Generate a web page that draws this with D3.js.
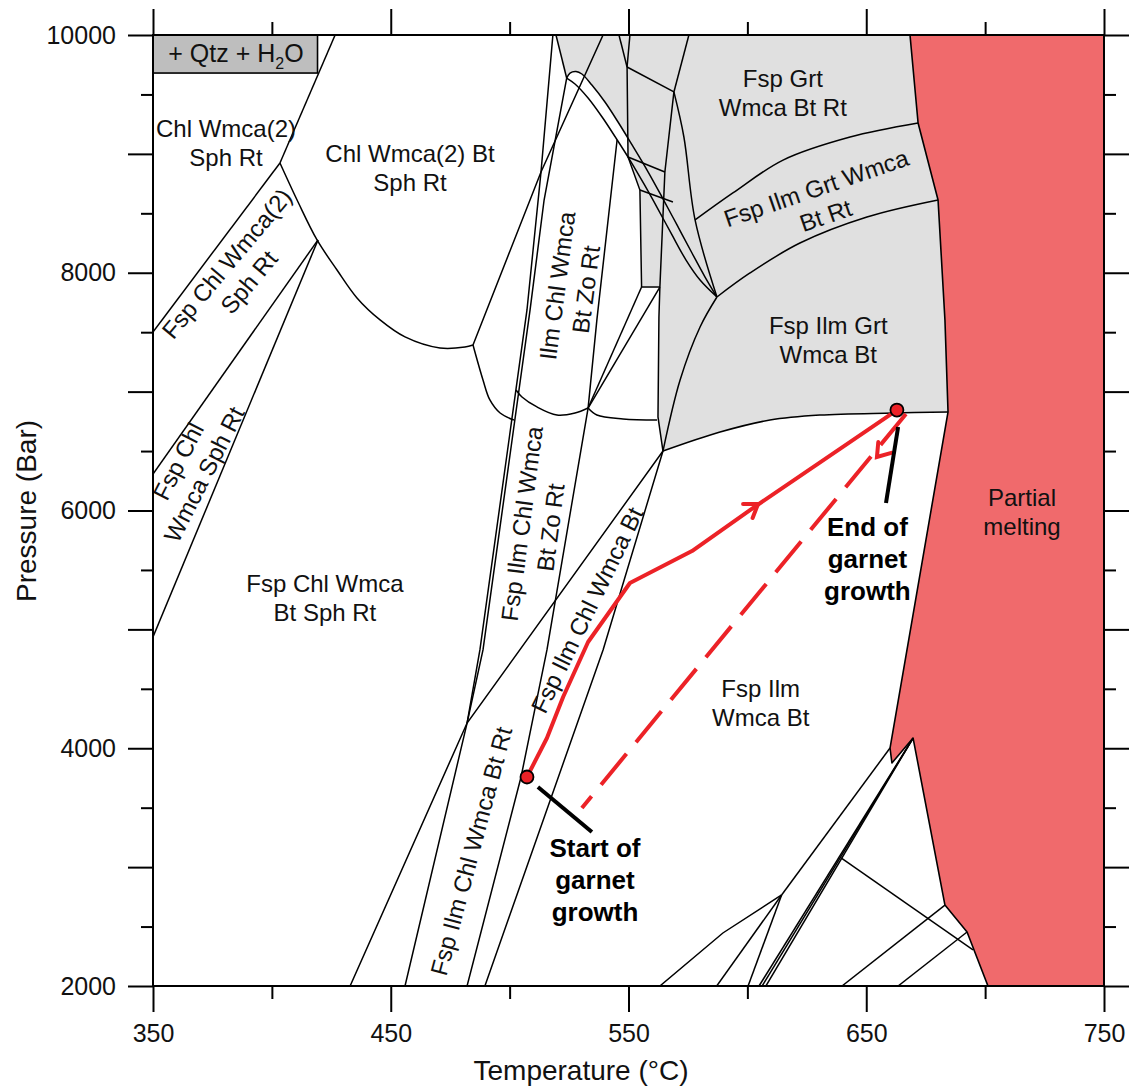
<!DOCTYPE html>
<html>
<head>
<meta charset="utf-8">
<script src="https://cdn.jsdelivr.net/npm/d3@7"></script>
<style>
  body { margin: 0; background: #fff; }
  text { font-family: "Liberation Sans", Arial, Helvetica, sans-serif; }
</style>
</head>
<body>
<svg id="chart" width="1133" height="1087"></svg>
<script>
// ---- values: [temperature °C, pressure bar] ----
var xMajor = [350, 450, 550, 650, 750];
var xMinor = [400, 500, 600, 700];
var yMajor = [2000, 3000, 4000, 5000, 6000, 7000, 8000, 9000, 10000];
var yMinor = [2500, 3500, 4500, 5500, 6500, 7500, 8500, 9500];
var yLabelled = [2000, 4000, 6000, 8000, 10000];

// garnet-bearing fields (grey)
var garnetField = [[519.5,10000],[668.4,10000],[671.8,9260],[680.2,8612],[683.1,7603],[684.4,6829],
  [661.3,6820],[630.5,6803],[609.5,6761],[588.5,6660],[564.5,6500],[562.4,6787],[562.8,7628],
  [563.2,7880],[555.5,7880],[554.8,8696],[549.8,8974],[549.6,9142],[545.6,9268],[540.1,9436],
  [534.6,9579],[530.4,9672],[527.9,9693],[525.4,9680],[524.0,9638]];

// partial melting field
var meltField = [[668.4,10000],[671.8,9260],[680.2,8612],[683.1,7603],[684.4,6829],[660.0,4002],
  [660.8,3876],[669.7,4086],[683.1,2681],[692.4,2454],[701.2,2000],[750,2000],[750,10000]];

// "+ Qtz + H2O" box
var qtzBox = [[350,10000],[419.2,9680]];

// straight field boundaries
var boundaries = [
  [[426.6,10000],[403.4,8923]],
  [[403.4,8923],[350,7502]],
  [[419.4,8276],[350,6307]],
  [[419.4,8276],[350,4936]],
  [[484.6,7392],[513.2,8848],[539.3,10000]],
  [[518.2,10000],[513.2,8848],[507.3,7687],[487.5,4827],[482.1,4212],[456.0,2000]],
  [[524.0,9638],[514.5,8612],[508.6,7687],[488.8,4827],[482.1,4212]],
  [[519.5,10000],[524.0,9638]],
  [[545.2,9117],[536.7,7603],[533.0,6862],[515.7,4827],[504.8,3758],[482.1,2000]],
  [[564.5,6500],[482.1,4212],[432.9,2000]],
  [[564.5,6500],[539.3,4827],[489.6,2000]],
  [[555.5,7880],[533.0,6862]],
  [[563.2,7880],[533.0,6862]],
  [[546.0,10000],[549.4,9731]],
  [[550.6,10000],[549.4,9731],[549.8,8974],[554.8,8696],[555.5,7880]],
  [[549.4,9731],[569.1,9521]],
  [[575.4,10000],[569.1,9521]],
  [[569.1,9521],[565.3,8848],[563.2,7880]],
  [[549.8,8974],[565.3,8848]],
  [[554.8,8696],[568.7,8595]],
  [[555.5,7880],[563.2,7880]],
  [[563.2,7880],[562.8,7628],[562.4,6787],[564.5,6500]],
  [[660.0,4002],[614.4,2766]],
  [[614.4,2766],[589.7,2446],[563.2,2000]],
  [[614.4,2766],[587.1,2000]],
  [[614.4,2766],[600.3,2000]],
  [[604.9,2000],[669.7,4086]],
  [[606.2,2000],[669.7,4086]],
  [[607.8,2000],[669.7,4086]],
  [[639.4,3077],[694.9,2303]],
  [[639.8,2000],[683.1,2681]],
  [[663.4,2000],[692.4,2454]]
];

// curved field boundaries
var curvedBoundaries = [
  [[403.4,8923],[411.0,8595],[419.0,8276],[427.4,8023],[435.8,7788],[445.5,7603],[456.0,7460],[470.7,7367],[481.2,7375],[484.6,7392]],
  [[524.0,9638],[525.4,9680],[527.9,9693],[530.4,9672],[534.6,9579],[540.1,9436],[545.6,9268],[551.5,9075],[557.8,8864],[564.1,8637],[570.4,8402],[576.7,8166],[582.2,7964],[587.2,7796]],
  [[524.0,9638],[527.5,9588],[533.0,9470],[538.9,9310],[544.7,9134],[550.6,8948],[556.5,8747],[562.4,8536],[568.3,8318],[574.2,8107],[580.1,7939],[587.2,7796]],
  [[569.1,9521],[573.3,9142],[578.0,8444],[587.2,7796]],
  [[578.0,8444],[593.9,8671],[615.0,8948],[643.2,9142],[671.8,9260]],
  [[587.2,7796],[601.1,7998],[622.1,8250],[650.3,8469],[680.2,8612]],
  [[587.2,7796],[580.1,7544],[571.7,7098],[564.5,6500]],
  [[564.5,6500],[588.5,6660],[609.5,6761],[630.5,6803],[661.3,6820],[684.4,6829]],
  [[484.6,7392],[488.8,7098],[491.7,6930],[496.0,6820],[501.8,6761]],
  [[502.7,7014],[505.2,6955],[511.5,6871],[519.9,6803],[527.5,6820],[533.0,6862]],
  [[533.0,6862],[536.7,6803],[547.7,6770],[562.0,6761]]
];

// P-T path
var prograde = [[507.3,3758],[515.7,4086],[522.5,4431],[533.0,4894],[550.6,5390],[576.7,5659],[601.1,6004],[662.9,6845]];
var retrograde = [[666.7,6812],[530.4,3497]];
var pathEnds = [[507.3,3758],[662.9,6845]];
var progradeArrow = [604.5,6055];
var retrogradeArrow = [654.5,6450];
var pointers = [[[511.9,3674],[534.6,3295]], [[663.4,6702],[658.3,6063]]];

var fieldLabels = [
  {t:380.7, p:9091, rot:0,    lines:["Chl Wmca(2)", "Sph Rt"]},
  {t:458.1, p:8881, rot:0,    lines:["Chl Wmca(2) Bt", "Sph Rt"]},
  {t:385.6, p:8000, rot:-50,  lines:["Fsp Chl Wmca(2)", "Sph Rt"]},
  {t:366.0, p:6360, rot:-63,  lines:["Fsp Chl", "Wmca Sph Rt"]},
  {t:422.3, p:5264, rot:0,    lines:["Fsp Chl Wmca", "Bt Sph Rt"]},
  {t:526.0, p:7876, rot:-82.5,lines:["Ilm Chl Wmca", "Bt Zo Rt"]},
  {t:511.1, p:5874, rot:-82.5,lines:["Fsp Ilm Chl Wmca", "Bt Zo Rt"]},
  {t:532.5, p:5163, rot:-64,  lines:["Fsp Ilm Chl Wmca Bt"]},
  {t:483.8, p:3135, rot:-75,  lines:["Fsp Ilm Chl Wmca Bt Rt"]},
  {t:614.9, p:9514, rot:0,    lines:["Fsp Grt", "Wmca Bt Rt"]},
  {t:630.9, p:8598, rot:-19,  lines:["Fsp Ilm Grt Wmca", "Bt Rt"]},
  {t:634.0, p:7438, rot:0,    lines:["Fsp Ilm Grt", "Wmca Bt"]},
  {t:715.5, p:5992, rot:0,    lines:["Partial", "melting"]},
  {t:605.6, p:4380, rot:0,    lines:["Fsp Ilm", "Wmca Bt"]}
];
var noteLabels = [
  {t:535.9, p:3161, lines:["Start of", "garnet", "growth"]},
  {t:650.5, p:5861, lines:["End of", "garnet", "growth"]}
];
var boxLabel = {t:384.9, p:9773};

// ---- drawing ----
var svg = d3.select("#chart");
var x = d3.scaleLinear().domain([350, 750]).range([153, 1104]);
var y = d3.scaleLinear().domain([2000, 10000]).range([986, 35]);

svg.append("defs").append("clipPath").attr("id", "plot")
  .append("rect").attr("x", 153).attr("y", 35).attr("width", 951).attr("height", 951);

var plot = svg.append("g").attr("clip-path", "url(#plot)");

var line = d3.line().x(function(d){ return x(d[0]); }).y(function(d){ return y(d[1]); });
var curve = d3.line().x(function(d){ return x(d[0]); }).y(function(d){ return y(d[1]); })
  .curve(d3.curveCatmullRom.alpha(0.5));

plot.append("path").attr("d", line(garnetField) + "Z").attr("fill", "#e0e0e0");
plot.append("path").attr("d", line(meltField) + "Z").attr("fill", "#f06a6c")
  .attr("stroke", "#000").attr("stroke-width", 1.6).attr("stroke-linejoin", "round");

plot.selectAll(".b").data(boundaries).enter().append("path")
  .attr("d", line).attr("fill", "none").attr("stroke", "#000").attr("stroke-width", 1.5);
plot.selectAll(".c").data(curvedBoundaries).enter().append("path")
  .attr("d", curve).attr("fill", "none").attr("stroke", "#000").attr("stroke-width", 1.5);

// Qtz + H2O box
plot.append("rect")
  .attr("x", x(qtzBox[0][0])).attr("y", y(qtzBox[0][1]))
  .attr("width", x(qtzBox[1][0]) - x(qtzBox[0][0]))
  .attr("height", y(qtzBox[1][1]) - y(qtzBox[0][1]))
  .attr("fill", "#bebebe").attr("stroke", "#000").attr("stroke-width", 1.6);
var bt = svg.append("text").attr("x", x(boxLabel.t)).attr("y", y(boxLabel.p))
  .attr("text-anchor", "middle").attr("font-size", 25).attr("fill", "#111");
bt.append("tspan").text("+ Qtz + H");
bt.append("tspan").attr("font-size", 16).attr("dy", 7).text("2");
bt.append("tspan").attr("dy", -7).text("O");

// field labels
fieldLabels.forEach(function(l){
  var g = svg.append("g")
    .attr("transform", "translate(" + x(l.t) + "," + y(l.p) + ") rotate(" + l.rot + ")");
  l.lines.forEach(function(s, i){
    g.append("text").attr("x", 0).attr("y", (i - (l.lines.length - 1) / 2) * 29)
      .attr("dy", "0.36em").attr("text-anchor", "middle")
      .attr("font-size", 24).attr("fill", "#111").text(s);
  });
});

// P-T path
var red = "#ec2227";
plot.append("path").attr("d", line(prograde)).attr("fill", "none")
  .attr("stroke", red).attr("stroke-width", 4).attr("stroke-linejoin", "round");
plot.append("path").attr("d", line(retrograde)).attr("fill", "none")
  .attr("stroke", red).attr("stroke-width", 4).attr("stroke-dasharray", "40,15");

function chevron(tip, from, to){
  var tx = x(tip[0]), ty = y(tip[1]);
  var dx = x(to[0]) - x(from[0]), dy = y(to[1]) - y(from[1]);
  var len = Math.sqrt(dx*dx + dy*dy); dx /= len; dy /= len;
  var a = 0.6, L = 15, pts = [];
  [a, -a].forEach(function(s){
    var bx = -dx*Math.cos(s) + dy*Math.sin(s), by = -dy*Math.cos(s) - dx*Math.sin(s);
    pts.push([tx + bx*L, ty + by*L]);
  });
  return "M" + pts[0] + "L" + tx + "," + ty + "L" + pts[1];
}
plot.append("path").attr("d", chevron(progradeArrow, prograde[6], prograde[7]))
  .attr("fill", "none").attr("stroke", red).attr("stroke-width", 4).attr("stroke-linecap", "round");
plot.append("path").attr("d", chevron(retrogradeArrow, retrograde[0], retrograde[1]))
  .attr("fill", "none").attr("stroke", red).attr("stroke-width", 4).attr("stroke-linecap", "round");

plot.selectAll(".ptr").data(pointers).enter().append("path")
  .attr("d", line).attr("stroke", "#000").attr("stroke-width", 4);

plot.selectAll(".dot").data(pathEnds).enter().append("circle")
  .attr("cx", function(d){ return x(d[0]); }).attr("cy", function(d){ return y(d[1]); })
  .attr("r", 6.5).attr("fill", red).attr("stroke", "#000").attr("stroke-width", 1.8);

noteLabels.forEach(function(l){
  l.lines.forEach(function(s, i){
    svg.append("text").attr("x", x(l.t)).attr("y", y(l.p) + i * 32).attr("dy", "0.36em")
      .attr("text-anchor", "middle").attr("font-size", 26).attr("font-weight", "bold")
      .attr("fill", "#000").text(s);
  });
});

// frame and axes
svg.append("rect").attr("x", 153).attr("y", 35).attr("width", 951).attr("height", 951)
  .attr("fill", "none").attr("stroke", "#000").attr("stroke-width", 2);

function styleAxis(g){
  g.select(".domain").remove();
  g.selectAll("line").attr("stroke-width", 2);
  g.attr("font-size", 25).attr("font-family", "Liberation Sans, Arial, sans-serif");
  g.selectAll("text").attr("fill", "#111");
}
svg.append("g").attr("transform", "translate(0,986)")
  .call(d3.axisBottom(x).tickValues(xMajor).tickSize(26).tickPadding(12).tickFormat(d3.format("d"))).call(styleAxis);
svg.append("g").attr("transform", "translate(0,986)")
  .call(d3.axisBottom(x).tickValues(xMinor).tickSize(13).tickFormat("")).call(styleAxis);
svg.append("g").attr("transform", "translate(0,35)")
  .call(d3.axisTop(x).tickValues(xMajor).tickSize(26).tickFormat("")).call(styleAxis);
svg.append("g").attr("transform", "translate(0,35)")
  .call(d3.axisTop(x).tickValues(xMinor).tickSize(13).tickFormat("")).call(styleAxis);
svg.append("g").attr("transform", "translate(153,0)")
  .call(d3.axisLeft(y).tickValues(yMajor).tickSize(25).tickPadding(12)
    .tickFormat(function(d){ return yLabelled.indexOf(d) >= 0 ? d : ""; })).call(styleAxis);
svg.append("g").attr("transform", "translate(153,0)")
  .call(d3.axisLeft(y).tickValues(yMinor).tickSize(12).tickFormat("")).call(styleAxis);
svg.append("g").attr("transform", "translate(1104,0)")
  .call(d3.axisRight(y).tickValues(yMajor).tickSize(25).tickFormat("")).call(styleAxis);
svg.append("g").attr("transform", "translate(1104,0)")
  .call(d3.axisRight(y).tickValues(yMinor).tickSize(12).tickFormat("")).call(styleAxis);

svg.append("text").attr("x", 581).attr("y", 1080).attr("text-anchor", "middle")
  .attr("font-size", 28).attr("fill", "#111").text("Temperature (°C)");
svg.append("text").attr("transform", "translate(36,511) rotate(-90)").attr("text-anchor", "middle")
  .attr("font-size", 28).attr("fill", "#111").text("Pressure (Bar)");
</script>
</body>
</html>
